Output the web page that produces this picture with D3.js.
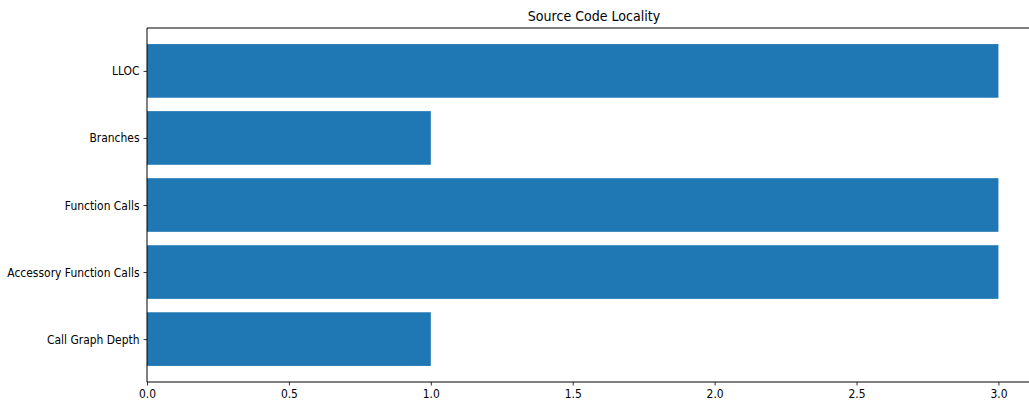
<!DOCTYPE html>
<html>
<head>
<meta charset="utf-8">
<script src="https://cdn.jsdelivr.net/npm/d3@7"></script>
<style>
  html, body { margin: 0; padding: 0; background: #fff; }
  svg text { font-family: "DejaVu Sans", sans-serif; fill: #000; }
</style>
</head>
<body>
<svg id="chart" width="1029" height="406"></svg>
<script>
// Metric names (top to bottom) and their scores
const categories = ["LLOC", "Branches", "Function Calls", "Accessory Function Calls", "Call Graph Depth"];
const values = [3, 1, 3, 3, 1];
const xTicks = [0.0, 0.5, 1.0, 1.5, 2.0, 2.5, 3.0];
const title = "Source Code Locality";

const W = 1029, H = 406;
const plot = { left: 147, top: 28, right: 1041, bottom: 382 };
const barColor = "#1f77b4";
const textScaleX = 0.86;   // slightly condensed lettering
const fontSize = 12.5;

const svg = d3.select("#chart");

// matplotlib-style limits: bars of height 0.8 plus 5% margins
const n = categories.length;
const yMin = -0.4, yMax = (n - 1) + 0.4, yPad = (yMax - yMin) * 0.05;
const xMax = d3.max(values) * 1.05;

const x = d3.scaleLinear().domain([0, xMax]).range([plot.left, plot.right]);
// index 0 sits at the bottom
const y = d3.scaleLinear().domain([yMin - yPad, yMax + yPad]).range([plot.bottom, plot.top]);

const data = categories.map((c, i) => ({ c, v: values[i], pos: n - 1 - i }));

// bars
svg.append("g").selectAll("rect").data(data).join("rect")
  .attr("x", x(0))
  .attr("y", d => y(d.pos + 0.4))
  .attr("width", d => x(d.v) - x(0))
  .attr("height", d => y(d.pos - 0.4) - y(d.pos + 0.4))
  .attr("fill", barColor);

// spines
const spine = svg.append("g").attr("stroke", "#000").attr("stroke-width", 1).attr("fill", "none");
spine.append("line").attr("x1", plot.left).attr("x2", plot.left).attr("y1", plot.top).attr("y2", plot.bottom);
spine.append("line").attr("x1", plot.left).attr("x2", plot.right).attr("y1", plot.bottom).attr("y2", plot.bottom);
spine.append("line").attr("x1", plot.left).attr("x2", plot.right).attr("y1", plot.top).attr("y2", plot.top);
spine.append("line").attr("x1", plot.right).attr("x2", plot.right).attr("y1", plot.top).attr("y2", plot.bottom);

// x axis
const xAxis = d3.axisBottom(x).tickValues(xTicks).tickFormat(d3.format(".1f")).tickSize(3.5).tickPadding(4);
const gx = svg.append("g").attr("transform", `translate(0,${plot.bottom})`).call(xAxis);
gx.select(".domain").remove();
gx.selectAll(".tick line").attr("stroke", "#000").attr("stroke-width", 0.8);
gx.selectAll(".tick text")
  .attr("font-size", fontSize)
  .attr("font-family", "DejaVu Sans")
  .attr("fill", "#000")
  .attr("transform", `scale(${textScaleX},1)`);

// y axis
const yAxis = d3.axisLeft(y).tickValues(data.map(d => d.pos))
  .tickFormat(p => data.find(d => d.pos === p).c).tickSize(3.5).tickPadding(4);
const gy = svg.append("g").attr("transform", `translate(${plot.left},0)`).call(yAxis);
gy.select(".domain").remove();
gy.selectAll(".tick line").attr("stroke", "#000").attr("stroke-width", 0.8);
gy.selectAll(".tick text")
  .attr("font-size", fontSize)
  .attr("font-family", "DejaVu Sans")
  .attr("fill", "#000")
  .attr("x", -7.5 / textScaleX)
  .attr("transform", `scale(${textScaleX},1)`);

// title
svg.append("text")
  .attr("transform", `translate(${(plot.left + plot.right) / 2},${plot.top - 7}) scale(${textScaleX},1)`)
  .attr("text-anchor", "middle")
  .attr("font-size", 14.7)
  .text(title);
</script>
</body>
</html>
